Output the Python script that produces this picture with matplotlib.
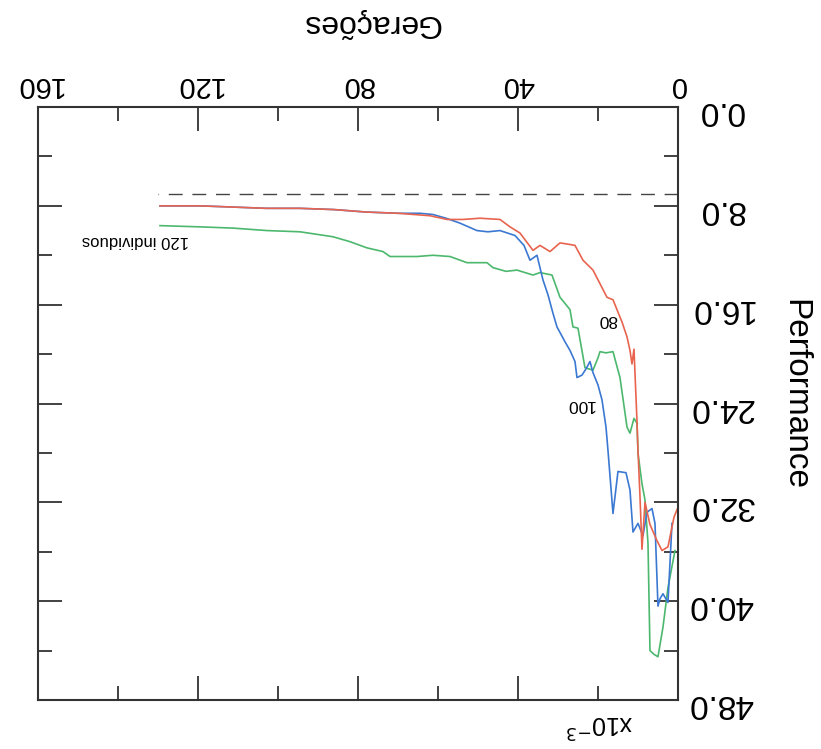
import matplotlib
matplotlib.use("Agg")
import matplotlib.pyplot as plt
from matplotlib.ticker import MultipleLocator, FormatStrFormatter

# Performance (x10^-3) por geração; figura original digitalizada de cabeça para baixo
gen_80 = [0, 1, 2.5, 4, 5.25, 7, 8.25, 9, 9.5, 10, 10.25, 11, 11.5, 12, 12.75, 14,
          15.25, 16.25, 17.75, 19.5, 21.25, 23.75, 25.75, 27.5, 29.5, 32, 34.5,
          36.25, 39.5, 42, 44.5, 49.5, 53.75, 57.75, 62, 70, 78, 86, 94.5, 103,
          111, 119.5, 129.5]
perf_80 = [32.4, 33.2, 35.6, 35.9, 35.1, 33.8, 32.0, 35.8, 31.5, 27.8, 25.4, 19.6,
           20.8, 19.7, 18.6, 17.4, 16.4, 15.6, 15.4, 14.3, 13.2, 12.4, 11.2, 11.1,
           11.0, 11.7, 11.2, 11.6, 10.2, 9.7, 9.1, 9.0, 9.1, 9.1, 8.8, 8.6, 8.5,
           8.3, 8.2, 8.2, 8.1, 8.0, 8.0]

gen_100 = [1.5, 2.5, 3.75, 4.5, 5.0, 5.75, 6.5, 7.75, 8.75, 10, 11.25, 12, 13, 15,
           16.25, 17.5, 18, 19, 20, 21.25, 22, 23, 24, 25.25, 25.75, 27, 28.25,
           30.25, 31.25, 32.5, 33.75, 35.25, 37, 38.5, 40.75, 44.5, 47.5, 50.25,
           54.5, 58, 61.25, 64.5, 70, 78, 86, 94.5, 103, 111, 119.5, 129.5]
perf_100 = [33.7, 40.1, 39.4, 39.8, 40.4, 33.7, 32.5, 32.8, 34.7, 33.7, 34.4, 31.0,
            29.6, 29.5, 32.9, 27.8, 25.9, 23.7, 22.5, 21.5, 20.6, 21.2, 21.7, 21.9,
            20.6, 19.7, 19.0, 17.8, 16.7, 15.2, 14.0, 12.0, 12.4, 11.2, 10.4, 10.0,
            10.1, 10.0, 9.4, 9.0, 8.7, 8.6, 8.6, 8.5, 8.3, 8.2, 8.2, 8.1, 8.0, 8.0]

gen_120 = [0.75, 2.5, 3.75, 5, 6, 7, 7.5, 8.25, 9, 10, 10.25, 11, 12, 12.75, 14.5,
           16.25, 18, 19.5, 20, 21.25, 23.25, 25, 26.25, 27, 29.5, 31.5, 34.5,
           36.25, 40.25, 43, 46.25, 47.75, 52.75, 57, 61.25, 65.25, 72, 73.75,
           77.75, 82, 86.25, 94.5, 102.75, 111.25, 119.5, 129.5]
perf_120 = [35.9, 38.9, 42.1, 44.5, 44.3, 44.0, 35.3, 31.8, 30.5, 28.0, 25.6, 25.2,
            26.4, 25.9, 21.9, 19.8, 19.9, 19.8, 20.3, 21.3, 21.1, 17.9, 17.8, 16.4,
            15.4, 13.6, 13.4, 13.6, 13.2, 13.3, 13.0, 12.6, 12.6, 12.1, 12.0, 12.1,
            12.1, 11.7, 11.4, 10.9, 10.5, 10.1, 10.0, 9.8, 9.7, 9.6]

ref_gen = [0, 130]
ref_perf = [7.0, 7.0]

plt.rcParams['font.family'] = ['Liberation Sans', 'DejaVu Sans']

fig = plt.figure(figsize=(8.21, 7.49), dpi=100)
ax = fig.add_axes([0.0463, 0.0654, 0.7795, 0.7917])

ax.plot(ref_gen, ref_perf, color='#444444', lw=1.0, ls=(0, (10, 7)))
ax.plot(gen_120, perf_120, color='#4cb86e', lw=1.2)
ax.plot(gen_100, perf_100, color='#3b78d2', lw=1.2)
ax.plot(gen_80, perf_80, color='#e8644e', lw=1.2)

# tudo girado 180 graus
ax.set_xlim(160, 0)
ax.set_ylim(48, 0)
ax.xaxis.set_major_locator(MultipleLocator(40))
ax.xaxis.set_minor_locator(MultipleLocator(20))
ax.yaxis.set_major_locator(MultipleLocator(8))
ax.yaxis.set_minor_locator(MultipleLocator(4))
ax.yaxis.set_major_formatter(FormatStrFormatter('%.1f'))

ax.tick_params(axis='both', which='both', direction='in', top=True, bottom=True,
               left=True, right=True, color='#333333', width=1.3)
ax.tick_params(axis='both', which='major', length=17)
ax.tick_params(axis='both', which='minor', length=10)
ax.tick_params(axis='x', labeltop=True, labelbottom=False, labelrotation=180,
               labelsize=21, pad=6)
ax.tick_params(axis='y', labelright=True, labelleft=False, labelrotation=180,
               labelsize=24, pad=31)
for t in ax.get_yticklabels():
    t.set_horizontalalignment('center')
for s in ax.spines.values():
    s.set_linewidth(1.5)
    s.set_color('#333333')

ax.xaxis.set_label_position('top')
ax.set_xlabel('Gerações', fontsize=23, rotation=180, va='center', ha='center')
ax.xaxis.set_label_coords(0.52, 1.142)
ax.yaxis.set_label_position('right')
ax.set_ylabel('Performance', fontsize=24, rotation=270, va='center', ha='center')
ax.yaxis.set_label_coords(1.183, 0.516)

ax.text(0.878, -0.038, r'x10$^{-3}$', transform=ax.transAxes, rotation=180,
        ha='center', va='center', fontsize=18)

ax.text(17.5, 17.2, '80', rotation=180, ha='center', va='center', fontsize=12.5)
ax.text(24.5, 24.1, '100', rotation=180, ha='center', va='center', fontsize=12.5)
ax.text(135.75, 10.8, '120 individuos', rotation=180, ha='center', va='center',
        fontsize=12)

fig.savefig('out.png', dpi=100)
